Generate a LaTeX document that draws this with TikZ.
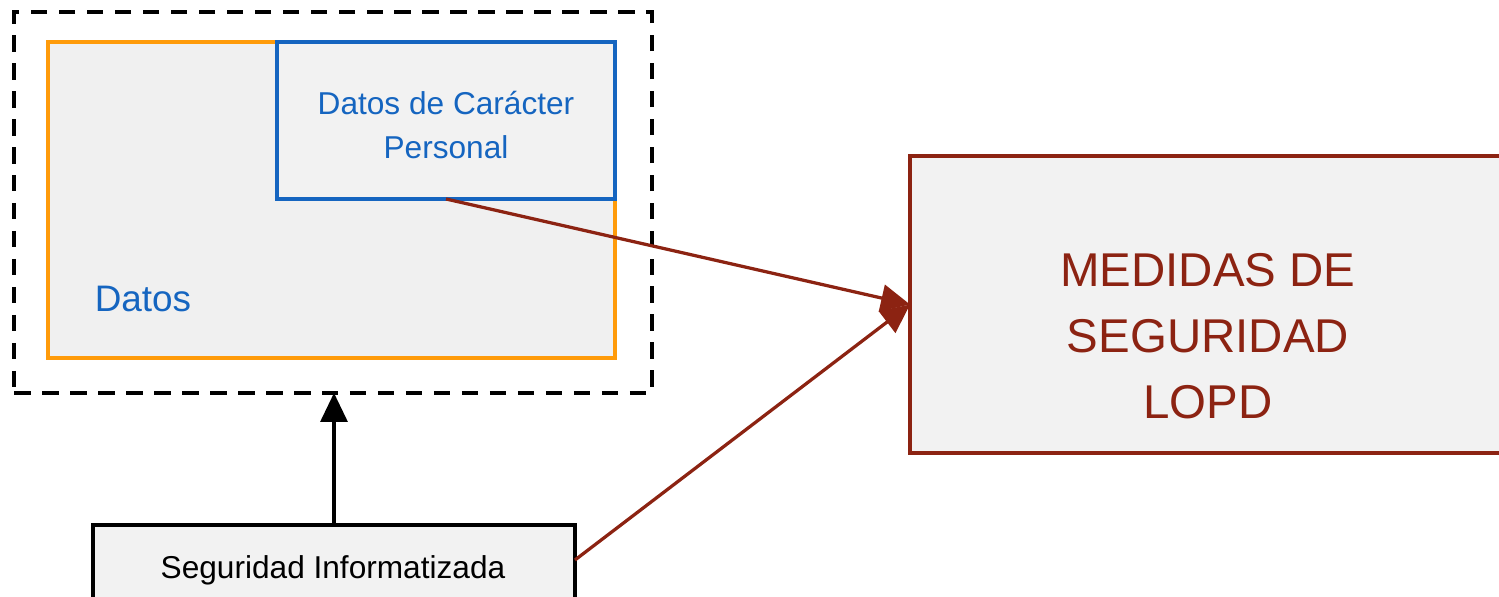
\documentclass[tikz,border=0pt]{standalone}
\usepackage{fontspec}
\setmainfont{Liberation Sans}
\usetikzlibrary{arrows.meta}
\definecolor{naranja}{RGB}{255,155,10}
\definecolor{azul}{RGB}{21,101,192}
\definecolor{granate}{RGB}{140,35,18}
\definecolor{grisclaro}{RGB}{240,240,240}
\definecolor{grisfondo}{RGB}{242,242,242}

\begin{document}
\begin{tikzpicture}[
    % 坐标单位:1 = 参考图中的 1 像素
    x=0.02cm, y=-0.02cm,
    % 方框样式:统一边框宽度,无内部留白
    caja/.style={
        rectangle, % 节点形状:矩形
        line width=0.065cm, % 边框宽度
        inner sep=0pt, % 内部留白
        outer sep=0pt,
        align=center % 多行文字居中
        },
    % 箭头样式
    flecha/.style={line width=0.065cm, -{Triangle[length=0.58cm, width=0.54cm]}},
    % 文字样式
    texto/.style={font=\fontsize{18pt}{24.5pt}\selectfont, inner sep=0pt, align=center}
    ]
    % ========== 画布边界(裁剪超出部分) ==========
    \clip (0,0) rectangle (1499,596);
    % ========== 第一步:左侧方框 ==========
    \node [caja, draw=black, dash pattern=on 0.33cm off 0.23cm,
           minimum width=12.76cm, minimum height=7.62cm] (marco) at (333,202.5) {};
    \node [caja, draw=naranja, fill=grisclaro,
           minimum width=11.34cm, minimum height=6.32cm] (datos) at (331.5,200) {};
    \node [caja, draw=azul, fill=grisfondo,
           minimum width=6.76cm, minimum height=3.14cm] (personal) at (446,120.5) {};
    \node [texto, text=azul] (personalTexto) at (446,125) {Datos de Carácter\\Personal};
    \node [text=azul, font=\fontsize{21pt}{25pt}\selectfont, inner sep=0pt]
           (etiqueta) at (143,299) {Datos};
    % ========== 第二步:右侧与下方方框 ==========
    \node [caja, draw=granate, fill=grisfondo,
           minimum width=11.92cm, minimum height=5.94cm] (medidas) at (1208,304.5) {};
    \node [texto, text=granate, font=\fontsize{27pt}{37.5pt}\selectfont]
           (medidasTexto) at (1208,336) {MEDIDAS DE\\SEGURIDAD\\LOPD};
    \node [caja, draw=black, fill=grisfondo, texto,
           minimum width=9.64cm, minimum height=1.68cm] (informatica) at (334,567) {};
    \node [texto] (informaticaTexto) at (333,570) {Seguridad Informatizada};
    % ========== 第三步:箭头 ==========
    \draw [flecha, black] (informatica.north) -- (informatica.north |- marco.south);
    \draw [flecha, granate] (personal.south) -- (medidas.west);
    \draw [flecha, granate] ([yshift=0.14cm]informatica.east) -- (medidas.west);
\end{tikzpicture}
\end{document}
